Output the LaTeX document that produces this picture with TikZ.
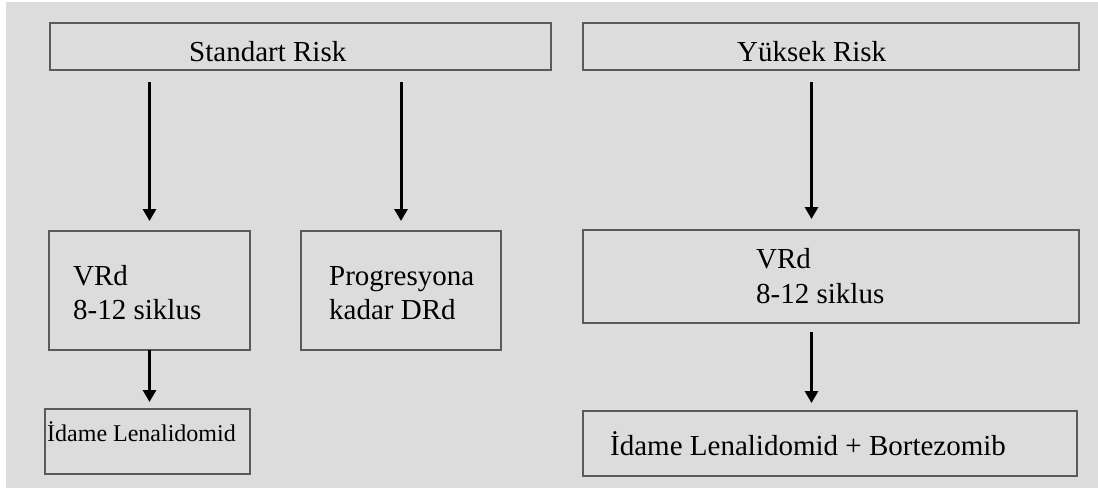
\documentclass[tikz,border=0pt]{standalone}
\usepackage{fontspec}
\setmainfont{Liberation Serif}
\usetikzlibrary{arrows.meta,calc}
\definecolor{bg}{RGB}{220,220,220}
\definecolor{edge}{RGB}{90,90,90}
\begin{document}
\begin{tikzpicture}[x=1pt,y=-1pt,
  box/.style={draw=edge, line width=1.5pt, inner sep=0pt, outer sep=0pt},
  txt/.style={font=\fontsize{29}{33}\selectfont, inner sep=0pt, anchor=base west},
  txts/.style={font=\fontsize{24}{28}\selectfont, inner sep=0pt, anchor=base west},
  arr/.style={line width=3pt, -{Triangle[width=13pt,length=12pt]}}]
\useasboundingbox (0,0) rectangle (1098,488);
\fill[white] (0,0) rectangle (1098,488);
\fill[bg] (6,2) rectangle (1098,488);
% boxes
\node[box, minimum width=501pt, minimum height=47pt] (sr) at (300.5,46.5) {};
\node[box, minimum width=496pt, minimum height=47pt] (yr) at (831,46.5) {};
\node[box, minimum width=201pt, minimum height=119pt] (v1) at (149.5,290.5) {};
\node[box, minimum width=200pt, minimum height=119pt] (pd) at (401,290.5) {};
\node[box, minimum width=496pt, minimum height=93pt] (v2) at (831,276.5) {};
\node[box, minimum width=205pt, minimum height=65pt] (i1) at (147.5,441.5) {};
\node[box, minimum width=494pt, minimum height=65pt] (i2) at (830,443.5) {};
% texts
\node[txt] (tsr) at (189,61) {Standart Risk};
\node[txt] (tyr) at (737,61) {Yüksek Risk};
\node[txt] (tv1a) at (73,285) {VRd};
\node[txt] (tv1b) at (73,319) {8-12 siklus};
\node[txt] (tpda) at (329,285) {Progresyona};
\node[txt] (tpdb) at (329,319) {kadar DRd};
\node[txt] (tv2a) at (756,268) {VRd};
\node[txt] (tv2b) at (756,303) {8-12 siklus};
\node[txts] (ti1) at (47,441) {İdame Lenalidomid};
\node[txt] (ti2) at (610,455) {İdame Lenalidomid + Bortezomib};
% arrows
\draw[arr] ($(sr.south -| v1.north)+(0,12)$) -- ($(v1.north)+(0,-10)$);
\draw[arr] ($(sr.south -| pd.north)+(0,12)$) -- ($(pd.north)+(0,-10)$);
\draw[arr] ($(yr.south)+(-19.5,12)$) -- ($(v2.north)+(-19.5,-11)$);
\draw[arr] (v1.south) -- ($(v1.south |- i1.north)+(0,-7)$);
\draw[arr] ($(v2.south)+(-19.5,9)$) -- ($(v2.south |- i2.north)+(-19.5,-8)$);
\end{tikzpicture}
\end{document}
